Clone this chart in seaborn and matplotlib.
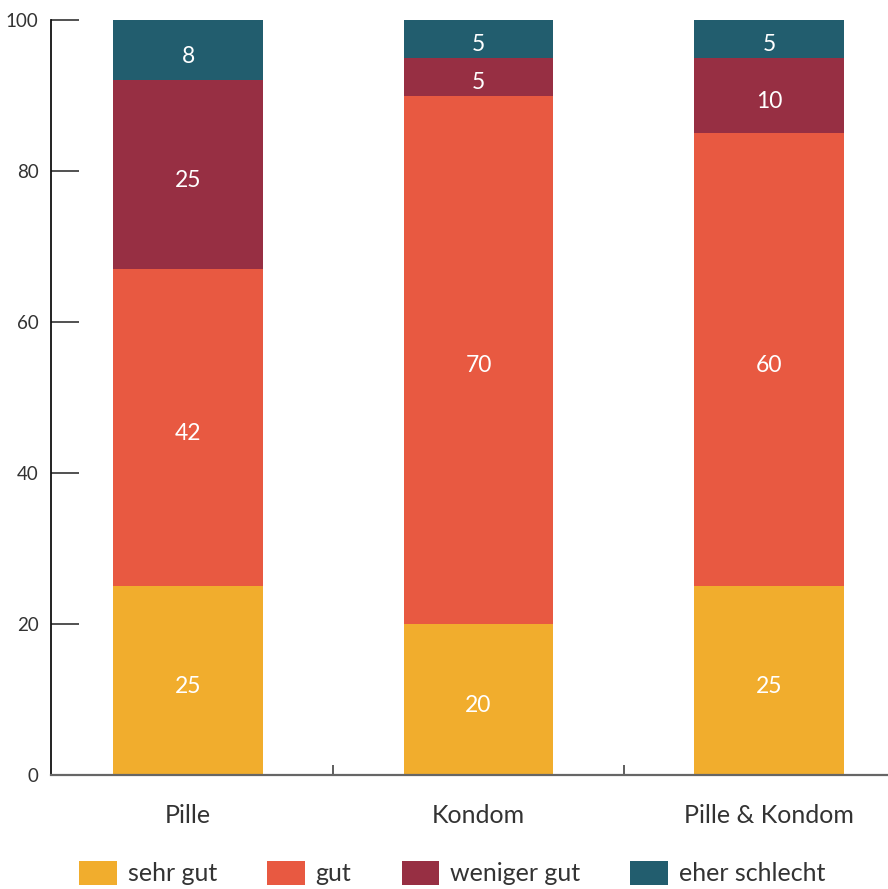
import matplotlib
matplotlib.use("Agg")
import matplotlib.pyplot as plt
import matplotlib.transforms as mtransforms
from matplotlib.patches import Patch
import numpy as np
import pandas as pd
import seaborn as sns

# Survey answers per contraceptive method (percent)
methods = ["Pille", "Kondom", "Pille & Kondom"]
ratings = ["sehr gut", "gut", "weniger gut", "eher schlecht"]
sehr_gut = [25, 20, 25]
gut = [42, 70, 60]
weniger_gut = [25, 5, 10]
eher_schlecht = [8, 5, 5]
colors = ["#F1AD2D", "#E85941", "#972F43", "#225D6E"]
y_ticks = [0, 20, 40, 60, 80, 100]

sns.set_style("white")
plt.rcParams["font.family"] = ["Lato", "DejaVu Sans"]

df = pd.DataFrame({
    "method": methods,
    "sehr gut": sehr_gut,
    "gut": gut,
    "weniger gut": weniger_gut,
    "eher schlecht": eher_schlecht,
})
cum = df[ratings].cumsum(axis=1)

fig = plt.figure(figsize=(8.88, 8.89), dpi=100)
ax = fig.add_axes([51 / 888, 1 - 775 / 889, (888 - 51) / 888, 755 / 889])

# Stacked bars: draw cumulative totals from the top layer down
for rating, color in reversed(list(zip(ratings, colors))):
    sns.barplot(x=df["method"], y=cum[rating], order=methods, color=color,
                saturation=1, width=0.513, ax=ax, linewidth=0)

# Value labels in the middle of each segment (nudged slightly down)
label_tf = mtransforms.offset_copy(ax.transData, fig=fig, x=0, y=-4, units="dots")
for i, m in enumerate(methods):
    lower = 0
    for rating in ratings:
        v = df.loc[i, rating]
        ax.text(i, lower + v / 2, f"{v}", ha="center", va="center_baseline",
                color="white", fontsize=16.5, transform=label_tf)
        lower += v

ax.set_xlim(-0.4716, 2.4096)
ax.set_ylim(0, 100)
ax.set_xlabel("")
ax.set_ylabel("")
ax.set_yticks(y_ticks)
ax.set_yticklabels([str(t) for t in y_ticks])
ax.tick_params(axis="y", direction="in", length=20, width=1.1, color="#222222",
               labelsize=13.5, labelcolor="#333333", pad=9, left=True)
ax.set_xticks(range(len(methods)))
ax.set_xticklabels(methods)
ax.tick_params(axis="x", length=0, labelsize=18, labelcolor="#333333", pad=21)
ax.set_xticks([0.5, 1.5], minor=True)
ax.tick_params(axis="x", which="minor", direction="in", length=7, width=1.1,
               color="#333333", bottom=True)

for side in ["top", "right"]:
    ax.spines[side].set_visible(False)
ax.spines["left"].set_color("#111111")
ax.spines["left"].set_linewidth(1.3)
ax.spines["bottom"].set_color("#666666")
ax.spines["bottom"].set_linewidth(1.6)

handles = [Patch(facecolor=c, edgecolor="none") for c in colors]
fig.legend(handles, ratings, loc="center left",
           bbox_to_anchor=(79 / 888, 1 - 873 / 889), ncol=4, frameon=False,
           fontsize=18, handlelength=1.5, handleheight=1.1,
           handletextpad=0.45, columnspacing=2.0, borderpad=0,
           borderaxespad=0, labelcolor="#333333")

fig.savefig("out.png", dpi=100)
